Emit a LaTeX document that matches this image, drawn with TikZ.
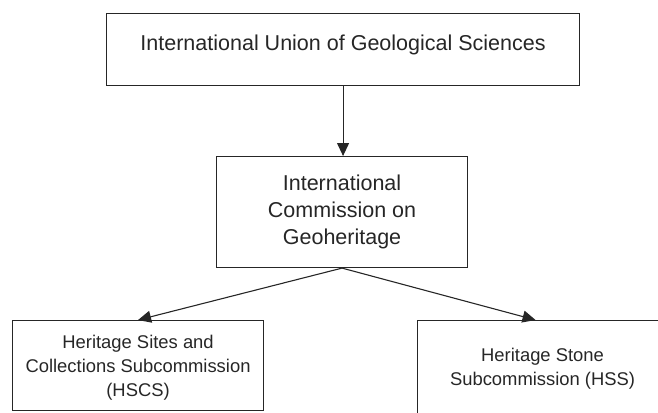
\documentclass[tikz,border=0pt]{standalone}
\usepackage{fontspec}
\setmainfont{Liberation Sans}
\usetikzlibrary{arrows.meta}

\begin{document}
\begin{tikzpicture}[x=1pt,y=-1pt,
    box/.style={draw=black!85,line width=1.1pt,inner sep=0pt,align=center,text=black!85,anchor=north west},
    bigtext/.style={font=\fontsize{21.5}{27}\selectfont},
    smalltext/.style={font=\fontsize{18.4}{24}\selectfont},
    arr/.style={draw=black!85,line width=1.1pt,-{Triangle[length=13pt,width=12pt]}}]
      \useasboundingbox (0,0) rectangle (658,412);
      \clip (0,0) rectangle (658,412);
      \node[box,bigtext,minimum width=473pt,text height=37pt,text depth=35pt] (iugs) at (106,13) {International Union of Geological Sciences};
      \node[box,bigtext,minimum width=251pt,text height=88pt,text depth=23pt] (icg) at (216,156) {International\\Commission on\\Geoheritage};
      \node[box,smalltext,minimum width=251pt,text height=76pt,text depth=14pt] (hscs) at (12,320) {Heritage Sites and\\Collections Subcommission\\(HSCS)};
      \node[box,smalltext,minimum width=250pt,text height=65pt,text depth=36pt] (hss) at (417,320) {Heritage Stone\\Subcommission (HSS)};
      \draw[arr] (iugs.south) -- (iugs.south |- icg.north);
      \draw[arr] (icg.south) -- (hscs.north);
      \draw[arr] (icg.south) -- ([xshift=-7pt]hss.north);
\end{tikzpicture}
\end{document}
